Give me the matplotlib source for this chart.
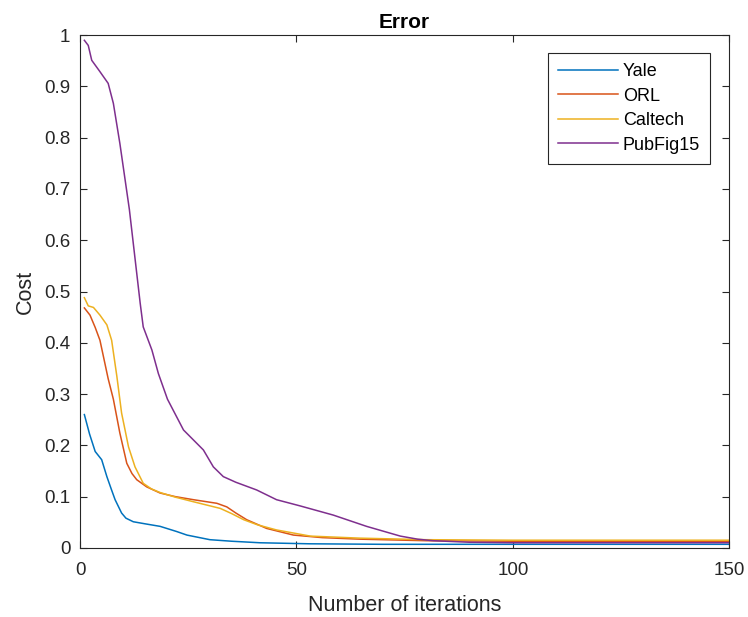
import matplotlib.pyplot as plt

plt.rcParams['font.family'] = ['Liberation Sans', 'DejaVu Sans']

# Yale
yale_x = [1, 2.2, 3.5, 5, 6.2, 7.2, 8.1, 9.6, 10.6, 12.3, 15, 18.5, 22.3, 24.7, 30, 35, 41.6, 53, 70, 100, 150]
yale_y = [0.26, 0.222, 0.188, 0.172, 0.139, 0.115, 0.094, 0.068, 0.058, 0.051, 0.047, 0.042, 0.032, 0.025, 0.016, 0.013, 0.010, 0.008, 0.007, 0.007, 0.007]

# ORL
orl_x = [1, 2.3, 3.5, 4.6, 6.5, 7.7, 9.2, 10.8, 12, 13.1, 15.4, 18.5, 22, 26.2, 31.6, 33.9, 36, 38.5, 43.1, 49.3, 56, 64.7, 80, 100, 150]
orl_y = [0.468, 0.454, 0.43, 0.405, 0.33, 0.29, 0.224, 0.165, 0.145, 0.133, 0.119, 0.107, 0.100, 0.094, 0.087, 0.080, 0.068, 0.055, 0.038, 0.025, 0.020, 0.017, 0.014, 0.013, 0.012]

# Caltech
cal_x = [1, 1.9, 3.1, 4.6, 6.2, 7.3, 8.5, 9.6, 11.2, 12.7, 14.6, 16.5, 18.5, 22, 26.2, 32.4, 35, 37.8, 41, 45.4, 53.2, 64.7, 80, 100, 150]
cal_y = [0.488, 0.472, 0.469, 0.454, 0.435, 0.405, 0.335, 0.263, 0.197, 0.158, 0.126, 0.115, 0.108, 0.099, 0.090, 0.077, 0.067, 0.055, 0.045, 0.035, 0.023, 0.019, 0.016, 0.015, 0.015]

# PubFig15
pub_x = [1, 1.9, 2.7, 4.5, 6.5, 7.7, 9.2, 11.4, 12.3, 13.9, 14.6, 16.6, 18.1, 20.2, 23.9, 28.5, 30.8, 33.1, 36, 40.8, 45.4, 50.8, 58.5, 66.2, 74, 78, 81.6, 90, 100, 150]
pub_y = [0.99, 0.980, 0.951, 0.93, 0.906, 0.867, 0.789, 0.66, 0.594, 0.477, 0.431, 0.386, 0.34, 0.29, 0.230, 0.191, 0.158, 0.139, 0.128, 0.113, 0.094, 0.082, 0.064, 0.042, 0.023, 0.017, 0.014, 0.011, 0.010, 0.010]

fig = plt.figure(figsize=(7.48, 6.17), dpi=100)
ax = fig.add_axes([0.107, 0.112, 0.868, 0.831])

ax.plot(yale_x, yale_y, color='#0072BD', lw=1.1, label='Yale')
ax.plot(orl_x, orl_y, color='#D95319', lw=1.1, label='ORL')
ax.plot(cal_x, cal_y, color='#EDB120', lw=1.1, label='Caltech')
ax.plot(pub_x, pub_y, color='#7E2F8E', lw=1.1, label='PubFig15')

ax.set_xlim(0, 150)
ax.set_ylim(0, 1)
ax.set_xticks([0, 50, 100, 150])
yt = [i / 10 for i in range(11)]
ax.set_yticks(yt)
ax.set_yticklabels(['0'] + ['%.1f' % v for v in yt[1:-1]] + ['1'])
ax.tick_params(direction='in', top=True, right=True, length=5, width=0.8,
               labelsize=13.5, colors='#262626', pad=7)
ax.tick_params(axis='x', pad=10)
for s in ax.spines.values():
    s.set_color('#262626')
    s.set_linewidth(0.8)

ax.set_xlabel('Number of iterations', fontsize=15.5, color='#262626', labelpad=12)
ax.set_ylabel('Cost', fontsize=15.5, color='#262626', labelpad=6)
ax.set_title('Error', fontsize=15, fontweight='bold', color='black', pad=5)

leg = ax.legend(loc='upper right', bbox_to_anchor=(0.9705, 0.965), fontsize=13,
                fancybox=False, edgecolor='#262626', framealpha=1,
                handlelength=3.3, handletextpad=0.3, borderpad=0.55,
                labelspacing=0.42, borderaxespad=0)
leg.get_frame().set_linewidth(0.8)

fig.savefig('out.png', dpi=100)
